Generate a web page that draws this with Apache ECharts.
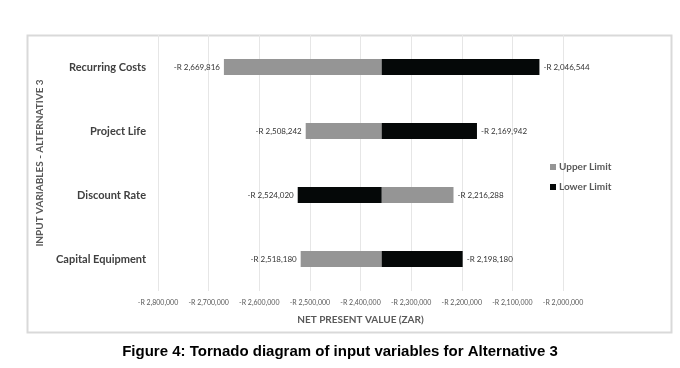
<!DOCTYPE html>
<html>
<head>
<meta charset="utf-8">
<script src="https://cdn.jsdelivr.net/npm/echarts@6/dist/echarts.min.js"></script>
<style>
  html, body { margin: 0; padding: 0; background: #fff; }
  #main { width: 680px; height: 368px; }
</style>
</head>
<body>
<div id="main"></div>
<script>
// tornado data (NPV in ZAR)
var categories = ['Recurring Costs', 'Project Life', 'Discount Rate', 'Capital Equipment'];
var upperLimit = [-2669816, -2508242, -2216288, -2518180];
var lowerLimit = [-2046544, -2169942, -2524020, -2198180];
var baseValue = -2358180;
var xTicks = [-2800000, -2700000, -2600000, -2500000, -2400000, -2300000, -2200000, -2100000, -2000000];

function fmt(v) {
    var s = Math.abs(v).toString().replace(/\B(?=(\d{3})+(?!\d))/g, ',');
    return (v < 0 ? '-R ' : 'R ') + s;
}

function renderBar(params, api) {
    var v = api.value(0);
    var cat = api.value(1);
    var p0 = api.coord([baseValue, cat]);
    var p1 = api.coord([v, cat]);
    var h = api.size([0, 1])[1] * 0.25;
    var left = Math.min(p0[0], p1[0]);
    var w = Math.abs(p1[0] - p0[0]);
    var toRight = v > baseValue;
    return {
        type: 'group',
        children: [{
            type: 'rect',
            shape: { x: left, y: p0[1] - h / 2, width: w, height: h },
            style: { fill: api.visual('color') }
        }, {
            type: 'text',
            style: {
                text: fmt(v),
                x: toRight ? p1[0] + 4 : p1[0] - 4,
                y: p0[1],
                align: toRight ? 'left' : 'right',
                verticalAlign: 'middle',
                fill: '#333',
                font: '8px Lato'
            }
        }]
    };
}

function toData(arr) {
    var out = [];
    for (var i = 0; i < arr.length; i++) {
        out.push([arr[i], i]);
    }
    return out;
}

var myChart = echarts.init(document.getElementById('main'));

var option = {
    backgroundColor: '#fff',
    animation: false,
    textStyle: { fontFamily: 'Lato' },
    graphic: [{
        type: 'rect',
        shape: { x: 27.5, y: 35.5, width: 644, height: 297 },
        style: { fill: 'none', stroke: '#d9d9d9', lineWidth: 2 },
        silent: true
    }],
    title: {
        text: 'Figure 4: Tornado diagram of input variables for Alternative 3',
        left: 'center',
        top: 339,
        textStyle: { fontFamily: 'Liberation Sans', fontWeight: 'bold', fontSize: 15, color: '#000' }
    },
    legend: {
        orient: 'vertical',
        left: 545,
        top: 157,
        itemWidth: 6,
        itemHeight: 6,
        itemGap: 10,
        icon: 'rect',
        textStyle: { fontSize: 10, fontWeight: 'bold', color: '#595959', fontFamily: 'Lato', padding: [0, 0, 0, -2] },
        data: ['Upper Limit', 'Lower Limit']
    },
    grid: {
        left: 158,
        right: 117,
        top: 35,
        bottom: 77
    },
    xAxis: {
        type: 'value',
        min: xTicks[0],
        max: xTicks[xTicks.length - 1],
        interval: 100000,
        name: 'NET PRESENT VALUE (ZAR)',
        nameLocation: 'middle',
        nameGap: 24,
        nameTextStyle: { fontSize: 10, fontWeight: 'bold', color: '#595959' },
        axisLine: { show: false },
        axisTick: { show: false },
        axisLabel: { fontSize: 7, color: '#595959', margin: 8, formatter: fmt },
        splitLine: { lineStyle: { color: '#e6e6e6', width: 1 } }
    },
    yAxis: {
        type: 'category',
        inverse: true,
        data: categories,
        name: 'INPUT VARIABLES - ALTERNATIVE 3',
        nameLocation: 'middle',
        nameGap: 112,
        nameRotate: 90,
        nameTextStyle: { fontSize: 10, fontWeight: 'bold', color: '#595959' },
        axisLine: { show: false },
        axisTick: { show: false },
        axisLabel: { fontSize: 11, fontWeight: 'bold', color: '#404040', margin: 12 }
    },
    series: [{
        name: 'Upper Limit',
        type: 'custom',
        renderItem: renderBar,
        encode: { x: 0, y: 1 },
        itemStyle: { color: '#959595' },
        data: toData(upperLimit)
    }, {
        name: 'Lower Limit',
        type: 'custom',
        renderItem: renderBar,
        encode: { x: 0, y: 1 },
        itemStyle: { color: '#050808' },
        data: toData(lowerLimit)
    }]
};

myChart.setOption(option);
</script>
</body>
</html>
